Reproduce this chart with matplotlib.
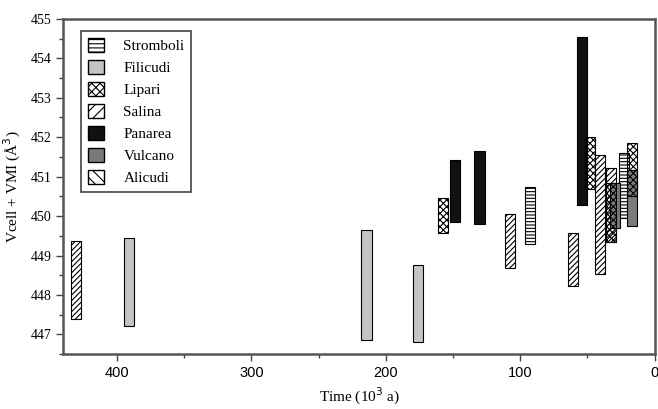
import matplotlib
matplotlib.use("Agg")
import matplotlib.pyplot as plt
from matplotlib.patches import Patch
from matplotlib.ticker import MultipleLocator

# Datos: (tiempo ka, Vcell+VMI mínimo, máximo)
stromboli_t = [92.6, 22.9]
stromboli_lo = [449.30, 449.95]
stromboli_hi = [450.75, 451.60]

filicudi_t = [390.7, 214.4, 176.3]
filicudi_lo = [447.21, 446.87, 446.81]
filicudi_hi = [449.45, 449.66, 448.75]

lipari_t = [157.2, 48.3, 32.7, 16.7]
lipari_lo = [449.56, 450.69, 449.35, 450.52]
lipari_hi = [450.46, 452.00, 450.85, 451.84]

salina_t = [430.7, 107.6, 60.7, 40.7, 32.8]
salina_lo = [447.38, 448.69, 448.22, 448.52, 449.35]
salina_hi = [449.36, 450.06, 449.57, 451.56, 451.22]

panarea_t = [148.6, 130.3, 54.3]
panarea_lo = [449.85, 449.81, 450.29]
panarea_hi = [451.43, 451.64, 454.55]

vulcano_t = [29.5, 16.8]
vulcano_lo = [449.70, 449.74]
vulcano_hi = [450.85, 451.18]

alicudi_t = []
alicudi_lo = []
alicudi_hi = []

plt.rcParams['hatch.linewidth'] = 0.8
serif = 'Liberation Serif'

fig = plt.figure(figsize=(6.58, 4.09), dpi=100)
ax = fig.add_axes([0.096, 0.134, 0.899, 0.820])

w = 7.5
def barras(t, lo, hi, **kw):
    alto = [h - l for l, h in zip(lo, hi)]
    ax.bar(t, alto, bottom=lo, width=w, edgecolor='black', linewidth=0.8, **kw)

# orden de dibujo: los de atrás primero
barras(filicudi_t, filicudi_lo, filicudi_hi, color='#c4c4c4')
barras(salina_t, salina_lo, salina_hi, facecolor='white', hatch='//////')
barras(stromboli_t, stromboli_lo, stromboli_hi, facecolor='white', hatch='-----')
barras(panarea_t, panarea_lo, panarea_hi, color='#111111')
barras(vulcano_t, vulcano_lo, vulcano_hi, color='#7a7a7a')
barras(lipari_t, lipari_lo, lipari_hi, facecolor='none', hatch='xxxxx')
barras(alicudi_t, alicudi_lo, alicudi_hi, facecolor='white', hatch='\\\\\\\\')

ax.set_xlim(440, 0)
ax.set_ylim(446.5, 455)
ax.xaxis.set_major_locator(MultipleLocator(100))
ax.xaxis.set_minor_locator(MultipleLocator(50))
ax.yaxis.set_major_locator(MultipleLocator(1))
ax.yaxis.set_minor_locator(MultipleLocator(0.5))
ax.tick_params(which='both', direction='out', top=False, right=False, color='#444444', width=1)
ax.tick_params(which='major', length=5)
ax.tick_params(which='minor', length=3)
for s in ax.spines.values():
    s.set_linewidth(1.8)
    s.set_color('#555555')

for lab in ax.get_yticklabels():
    lab.set_fontfamily(serif)
    lab.set_fontsize(10)
for lab in ax.get_xticklabels():
    lab.set_fontfamily('Liberation Sans')
    lab.set_fontsize(10.5)

ax.set_xlabel('Time (10$^3$ a)', fontfamily=serif, fontsize=11, labelpad=4)
ax.set_ylabel('Vcell + VMI (Å$^3$)', fontfamily=serif, fontsize=11, labelpad=5)

handles = [
    Patch(facecolor='white', edgecolor='black', hatch='----', label='Stromboli'),
    Patch(facecolor='#c4c4c4', edgecolor='black', label='Filicudi'),
    Patch(facecolor='white', edgecolor='black', hatch='xxxx', label='Lipari'),
    Patch(facecolor='white', edgecolor='black', hatch='///', label='Salina'),
    Patch(facecolor='#111111', edgecolor='black', label='Panarea'),
    Patch(facecolor='#7a7a7a', edgecolor='black', label='Vulcano'),
    Patch(facecolor='white', edgecolor='black', hatch='\\\\\\', label='Alicudi'),
]
leg = ax.legend(handles=handles, loc='upper left', bbox_to_anchor=(0.018, 0.985),
                prop={'family': serif, 'size': 11}, fancybox=False, framealpha=1,
                edgecolor='#444444', handlelength=1.0, handleheight=1.0,
                handletextpad=1.3, labelspacing=0.45, borderpad=0.45)
leg.get_frame().set_linewidth(1.2)

fig.savefig('out.png', dpi=100)
